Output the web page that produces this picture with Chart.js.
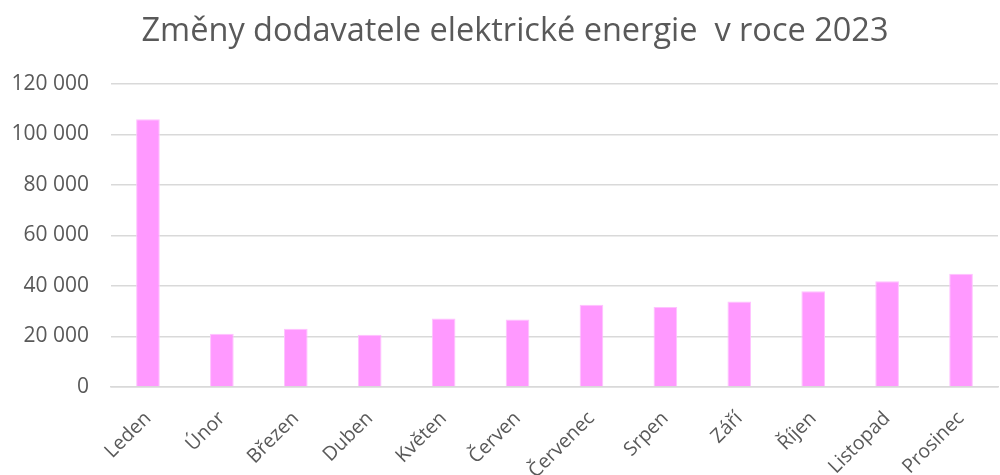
<!DOCTYPE html>
<html>
<head>
<meta charset="utf-8">
<script src="https://cdn.jsdelivr.net/npm/chart.js@4"></script>
<style>
  html, body { margin: 0; padding: 0; background: #fff; }
  #wrap { width: 1000px; height: 475px; }
</style>
</head>
<body>
<div id="wrap"><canvas id="chart"></canvas></div>
<script>
// data
const months = ['Leden', 'Únor', 'Březen', 'Duben', 'Květen', 'Červen',
                'Červenec', 'Srpen', 'Září', 'Říjen', 'Listopad', 'Prosinec'];
const changes = [106000, 21100, 23100, 20700, 27100, 26700,
                 32600, 31700, 33900, 37900, 41900, 44900];
const yTicks = [0, 20000, 40000, 60000, 80000, 100000, 120000];
const chartTitle = 'Změny dodavatele elektrické energie  v roce 2023';

const fmt = v => String(v).replace(/\B(?=(\d{3})+(?!\d))/g, ' ');

// title is drawn by hand, it sits a bit right of the canvas centre
const titlePlugin = {
    id: 'sideTitle',
    afterDraw(chart) {
        const ctx = chart.ctx;
        ctx.save();
        ctx.font = '32.5px "Open Sans"';
        ctx.fillStyle = '#595959';
        ctx.textAlign = 'center';
        ctx.textBaseline = 'alphabetic';
        ctx.fillText(chartTitle, 515, 41);
        ctx.restore();
    }
};

new Chart(document.getElementById('chart'), {
    type: 'bar',
    data: {
        labels: months,
        datasets: [{
            label: 'Změny dodavatele',
            data: changes,
            backgroundColor: '#FF99FF',
            borderColor: '#FFC2FF',
            borderWidth: 1,
            categoryPercentage: 1,
            barPercentage: 0.32
        }]
    },
    options: {
        responsive: true,
        maintainAspectRatio: false,
        animation: false,
        layout: { padding: { left: 0, right: 2, top: 84, bottom: 0 } },
        plugins: {
            legend: { display: false },
            tooltip: { enabled: false },
            title: { display: false }
        },
        scales: {
            x: {
                grid: { display: false },
                border: { color: '#D9D9D9', width: 1.5 },
                ticks: {
                    color: '#595959',
                    font: { family: 'Open Sans', size: 19.5 },
                    minRotation: 45,
                    maxRotation: 45,
                    padding: 12
                },
                afterFit(axis) { axis.height = 88; }
            },
            y: {
                min: 0,
                max: 120000,
                afterBuildTicks(axis) { axis.ticks = yTicks.map(v => ({ value: v })); },
                grid: { color: '#D9D9D9', lineWidth: 1.5, drawTicks: false },
                border: { display: false },
                ticks: {
                    color: '#595959',
                    font: { family: 'Open Sans', size: 21 },
                    padding: 22,
                    callback: v => fmt(v)
                },
                afterFit(axis) { axis.width = 111; }
            }
        }
    },
    plugins: [titlePlugin]
});
</script>
</body>
</html>
